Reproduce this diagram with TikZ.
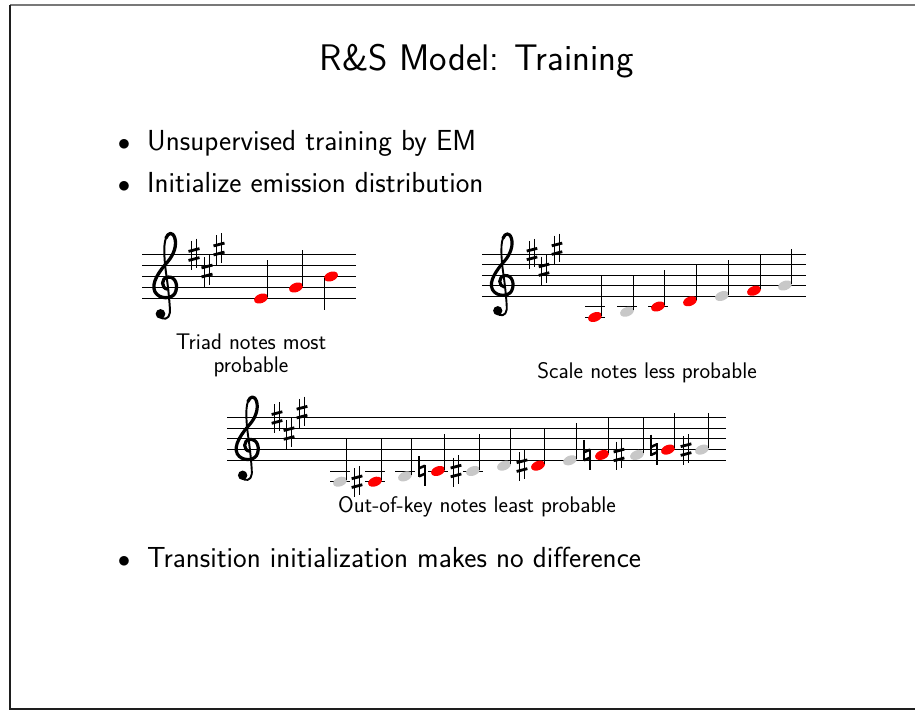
\documentclass[tikz,border=0pt]{standalone}
\usepackage{fontspec}
\definecolor{noteRed}{RGB}{255,0,0}
\definecolor{noteGray}{RGB}{200,200,200}
\definecolor{frameTop}{RGB}{120,120,120}
\definecolor{frameSide}{RGB}{30,30,30}

% note head: x, y, colour
\newcommand\nhead[3]{\fill[#3, rotate around={22:(#1,#2)}] (#1,#2) ellipse (7.2 and 4.6);}
% stem: x, y from, y to
\newcommand\nstem[3]{\draw[line width=1.4pt] (#1,#2) -- (#1,#3);}
% ledger line: x centre, y
\newcommand\ledger[2]{\draw[line width=1pt] ({#1-10},#2) -- ({#1+10},#2);}
% sharp sign: x, y, space
\newcommand\sharpsign[3]{%
  \begin{scope}[shift={(#1,#2)}, x=#3pt, y=-#3pt]
    \draw[line width=1.3pt] (-0.22,-1.25) -- (-0.22,1.45);
    \draw[line width=1.3pt] (0.22,-1.45) -- (0.22,1.25);
    \draw[line width=2.8pt] (-0.5,-0.28) -- (0.5,-0.54);
    \draw[line width=2.8pt] (-0.5,0.54) -- (0.5,0.28);
  \end{scope}}
% natural sign: x, y, space
\newcommand\natsign[3]{%
  \begin{scope}[shift={(#1,#2)}, x=#3pt, y=-#3pt]
    \draw[line width=1.3pt] (-0.28,-1.4) -- (-0.28,0.6);
    \draw[line width=1.3pt] (0.28,-0.6) -- (0.28,1.4);
    \draw[line width=2.5pt] (-0.28,-0.25) -- (0.28,-0.5);
    \draw[line width=2.5pt] (-0.28,0.5) -- (0.28,0.25);
  \end{scope}}
% treble clef: x, y of the G line, space
\newcommand\gclef[3]{%
  \begin{scope}[shift={(#1,#2)}, x=#3pt, y=#3pt, line cap=round, line join=round]
    \draw[line width={0.3*#3pt}] (0.15,-0.15) .. controls (-0.45,-0.1) and (-0.5,0.9) .. (0.2,0.95)
      .. controls (0.9,1.0) and (1.15,0.1) .. (0.8,-0.55)
      .. controls (0.5,-1.05) and (-0.6,-1.1) .. (-1.0,-0.4)
      .. controls (-1.4,0.4) and (-0.6,1.5) .. (0.2,2.4)
      .. controls (0.7,3.0) and (1.0,3.8) .. (0.8,4.5)
      .. controls (0.6,5.1) and (0.2,5.0) .. (0.0,4.5);
    \draw[line width={0.18*#3pt}] (0.0,4.5) .. controls (-0.3,3.8) and (-0.1,2.0) .. (0.05,1.0)
      .. controls (0.2,0) and (0.4,-2.0) .. (0.35,-2.3)
      .. controls (0.3,-2.9) and (-0.3,-3.0) .. (-0.6,-2.6);
    \fill (-0.5,-2.4) circle (0.44);
  \end{scope}}
% five staff lines: x from, x to, top line y, space
\newcommand\stafflines[4]{%
  \foreach \k in {0,...,4} {\draw[line width=1pt] (#1,{#3+\k*#4}) -- (#2,{#3+\k*#4});}}

\begin{document}
\begin{tikzpicture}[x=1pt, y=-1pt, font=\sffamily,
    bodytext/.style={font=\sffamily\fontsize{29}{35}\selectfont, anchor=base west, inner sep=0pt},
    bulletmark/.style={font=\fontsize{24}{29}\selectfont, anchor=base, inner sep=0pt},
    caption/.style={font=\sffamily\fontsize{22.6}{27}\selectfont, anchor=base, inner sep=0pt}]
  \useasboundingbox (0,0) rectangle (915,710);

  % slide frame
  \draw[frameTop, line width=1.6pt] (10,5) -- (915,5);
  \draw[frameSide, line width=1.4pt] (10,5) -- (10,709) -- (915,709);

  % title and bullets
  \node[font=\sffamily\fontsize{37}{44}\selectfont, anchor=base, inner sep=0pt] (title) at (477,70) {R\&S Model: Training};
  \node[bulletmark] (b1) at (124,150) {$\bullet$};
  \node[bodytext] (t1) at (147,150) {Unsupervised training by EM};
  \node[bulletmark] (b2) at (124,192) {$\bullet$};
  \node[bodytext] (t2) at (147,192) {Initialize emission distribution};
  \node[bulletmark] (b3) at (124,567) {$\bullet$};
  \node[bodytext] (t3) at (147,567) {Transition initialization makes no difference};

  % ---- staff 1: triad notes ----
  \stafflines{142}{356}{254.5}{11}
  \gclef{166}{287.5}{11}
  \sharpsign{194}{254.5}{11}
  \sharpsign{207}{271}{11}
  \sharpsign{219}{249}{11}
  \nhead{261}{298.5}{noteRed}\nstem{267.5}{297}{260}
  \nhead{296}{287.5}{noteRed}\nstem{302.5}{286}{249.5}
  \nhead{331}{276.5}{noteRed}\nstem{324.5}{278}{309.5}
  \node[caption] (capA) at (251,349) {Triad notes most};
  \node[caption] (capA2) at (251,372) {probable};

  % ---- staff 2: scale notes ----
  \stafflines{482}{806}{254}{10.5}
  \gclef{503}{285.5}{10.5}
  \sharpsign{532}{254}{10.5}
  \sharpsign{544}{269.75}{10.5}
  \sharpsign{557}{248.75}{10.5}
  \ledger{595}{306.5}\ledger{595}{317}
  \nhead{595}{317}{noteRed}\nstem{601.6}{315.5}{275}
  \ledger{627}{306.5}
  \nhead{627}{311.75}{noteGray}\nstem{633.6}{310.2}{275}
  \ledger{658}{306.5}
  \nhead{658}{306.5}{noteRed}\nstem{664.6}{305}{270}
  \nhead{690}{301.25}{noteRed}\nstem{696.6}{299.7}{265}
  \nhead{722}{296}{noteGray}\nstem{728.6}{294.5}{259.5}
  \nhead{754}{290.75}{noteRed}\nstem{760.6}{289.2}{254.5}
  \nhead{785}{285.5}{noteGray}\nstem{791.6}{284}{249}
  \node[caption] (capB) at (647,378) {Scale notes less probable};

  % ---- staff 3: out-of-key notes ----
  \stafflines{227}{726}{417.5}{10.7}
  \gclef{248}{449.6}{10.7}
  \sharpsign{277}{417.5}{10.7}
  \sharpsign{289}{433.55}{10.7}
  \sharpsign{302}{412.15}{10.7}
  \ledger{340}{471}\ledger{340}{481.7}
  \nhead{340}{481.7}{noteGray}\nstem{346.6}{480.2}{438.9}
  \sharpsign{357}{481.7}{10.7}
  \ledger{375}{471}\ledger{375}{481.7}
  \nhead{375}{481.7}{noteRed}\nstem{381.6}{480.2}{438.9}
  \ledger{405}{471}
  \nhead{405}{476.35}{noteGray}\nstem{411.6}{474.8}{438.9}
  \natsign{422}{471}{10.7}
  \ledger{438}{471}
  \nhead{438}{471}{noteRed}\nstem{444.6}{469.5}{434}
  \sharpsign{456}{471}{10.7}
  \ledger{473}{471}
  \nhead{473}{471}{noteGray}\nstem{479.6}{469.5}{434}
  \nhead{504}{465.65}{noteGray}\nstem{510.6}{464.1}{429}
  \sharpsign{522}{465.65}{10.7}
  \nhead{538}{465.65}{noteRed}\nstem{544.6}{464.1}{429}
  \nhead{570}{460.3}{noteGray}\nstem{576.6}{458.8}{423}
  \natsign{587}{454.95}{10.7}
  \nhead{602}{454.95}{noteRed}\nstem{608.6}{453.4}{418}
  \sharpsign{619}{454.95}{10.7}
  \nhead{637}{454.95}{noteGray}\nstem{643.6}{453.4}{418}
  \natsign{654}{449.6}{10.7}
  \nhead{668}{449.6}{noteRed}\nstem{674.6}{448.1}{413}
  \sharpsign{686}{449.6}{10.7}
  \nhead{702}{449.6}{noteGray}\nstem{708.6}{448.1}{413}
  \node[caption] (capC) at (477,512) {Out-of-key notes least probable};
\end{tikzpicture}
\end{document}
